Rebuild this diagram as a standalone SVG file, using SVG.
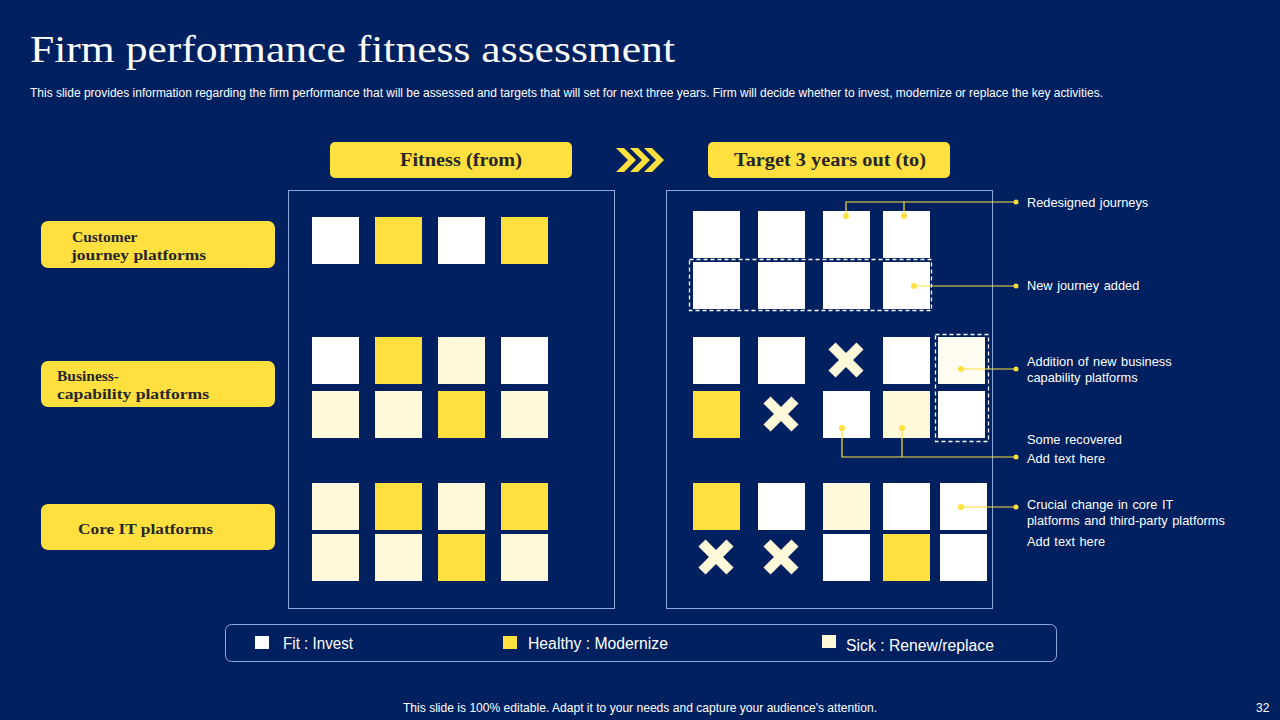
<svg xmlns="http://www.w3.org/2000/svg" width="1280" height="720" viewBox="0 0 1280 720">
<style>
.bg{fill:#002060}
.title{font-family:"Liberation Serif",serif;font-size:37px;fill:#ffffff}
.sub{font-family:"Liberation Sans",sans-serif;font-size:12px;fill:#ffffff}
.pill{fill:#FFE03F}
.pt{font-family:"Liberation Serif",serif;font-weight:bold;font-size:18px;fill:#262626}
.lt{font-family:"Liberation Serif",serif;font-weight:bold;font-size:15.5px;fill:#262626}
.panel{fill:none;stroke:#8EA9DB;stroke-width:1}
.w{fill:#ffffff}
.y{fill:#FFE03F}
.c{fill:#FFF8D9}
.x{stroke:#FFF8D9;stroke-width:10;stroke-linecap:butt}
.dash{fill:none;stroke:#ffffff;stroke-width:1.3;stroke-dasharray:4 3}
.con{fill:none;stroke:#FFE03F;stroke-width:1.2}
.dot{fill:#FFE03F}
.rt{font-family:"Liberation Sans",sans-serif;font-size:12.8px;fill:#ffffff;word-spacing:1px}
.lg{font-family:"Liberation Sans",sans-serif;font-size:16px;fill:#ffffff}
.ft{font-family:"Liberation Sans",sans-serif;font-size:12px;fill:#ffffff}
</style>
<rect class="bg" x="0" y="0" width="1280" height="720"/>
<text class="title" x="30" y="62" textLength="645" lengthAdjust="spacingAndGlyphs">Firm performance fitness assessment</text>
<text class="sub" x="30" y="97" textLength="1073" lengthAdjust="spacingAndGlyphs">This slide provides information regarding the firm performance that will be assessed and targets that will set for next three years. Firm will decide whether to invest, modernize or replace the key activities.</text>

<g id="header-from">
<rect class="pill" x="330" y="142" width="242" height="36" rx="5"/>
<text class="pt" x="461" y="166" text-anchor="middle" textLength="122" lengthAdjust="spacingAndGlyphs">Fitness (from)</text>
</g>
<g id="chevrons">
<polygon class="y" points="616,148 624,148 636,160 624,172 616,172 628,160"/>
<polygon class="y" points="630,148 638,148 650,160 638,172 630,172 642,160"/>
<polygon class="y" points="644,148 652,148 664,160 652,172 644,172 656,160"/>
</g>
<g id="header-to">
<rect class="pill" x="708" y="142" width="242" height="36" rx="5"/>
<text class="pt" x="830" y="166" text-anchor="middle" textLength="192" lengthAdjust="spacingAndGlyphs">Target 3 years out (to)</text>
</g>

<g id="label-customer">
<rect class="pill" x="41" y="221" width="234" height="47" rx="7"/>
<text class="lt" x="72" y="242">Customer</text>
<text class="lt" x="71" y="260" textLength="135" lengthAdjust="spacingAndGlyphs">journey platforms</text>
</g>
<g id="label-business">
<rect class="pill" x="41" y="361" width="234" height="46" rx="7"/>
<text class="lt" x="57" y="381">Business-</text>
<text class="lt" x="57" y="399" textLength="152" lengthAdjust="spacingAndGlyphs">capability platforms</text>
</g>
<g id="label-core">
<rect class="pill" x="41" y="504" width="234" height="46" rx="7"/>
<text class="lt" x="78" y="534" textLength="135" lengthAdjust="spacingAndGlyphs">Core IT platforms</text>
</g>

<g id="panel-from">
<rect class="panel" x="288.5" y="190.5" width="326" height="418"/>
<rect class="w" x="312" y="217" width="47" height="47"/>
<rect class="y" x="375" y="217" width="47" height="47"/>
<rect class="w" x="438" y="217" width="47" height="47"/>
<rect class="y" x="501" y="217" width="47" height="47"/>
<rect class="w" x="312" y="337" width="47" height="47"/>
<rect class="y" x="375" y="337" width="47" height="47"/>
<rect class="c" x="438" y="337" width="47" height="47"/>
<rect class="w" x="501" y="337" width="47" height="47"/>
<rect class="c" x="312" y="391" width="47" height="47"/>
<rect class="c" x="375" y="391" width="47" height="47"/>
<rect class="y" x="438" y="391" width="47" height="47"/>
<rect class="c" x="501" y="391" width="47" height="47"/>
<rect class="c" x="312" y="483" width="47" height="47"/>
<rect class="y" x="375" y="483" width="47" height="47"/>
<rect class="c" x="438" y="483" width="47" height="47"/>
<rect class="y" x="501" y="483" width="47" height="47"/>
<rect class="c" x="312" y="534" width="47" height="47"/>
<rect class="c" x="375" y="534" width="47" height="47"/>
<rect class="y" x="438" y="534" width="47" height="47"/>
<rect class="c" x="501" y="534" width="47" height="47"/>
</g>

<g id="panel-to">
<rect class="panel" x="666.5" y="190.5" width="326" height="418"/>
<rect class="w" x="693" y="211" width="47" height="47"/>
<rect class="w" x="758" y="211" width="47" height="47"/>
<rect class="w" x="823" y="211" width="47" height="47"/>
<rect class="w" x="883" y="211" width="47" height="47"/>
<rect class="w" x="693" y="262" width="47" height="47"/>
<rect class="w" x="758" y="262" width="47" height="47"/>
<rect class="w" x="823" y="262" width="47" height="47"/>
<rect class="w" x="883" y="262" width="47" height="47"/>
<rect class="dash" x="689.5" y="259.5" width="242" height="51"/>
<rect class="w" x="693" y="337" width="47" height="47"/>
<rect class="w" x="758" y="337" width="47" height="47"/>
<path class="x" d="M832,346 L860,374 M860,346 L832,374"/>
<rect class="w" x="883" y="337" width="47" height="47"/>
<rect fill="#FFFDF2" x="938" y="337" width="47" height="47"/>
<rect class="y" x="693" y="391" width="47" height="47"/>
<path class="x" d="M767,400 L795,428 M795,400 L767,428"/>
<rect class="w" x="823" y="391" width="47" height="47"/>
<rect class="c" x="883" y="391" width="47" height="47"/>
<rect class="w" x="938" y="391" width="47" height="47"/>
<rect class="dash" x="935.5" y="334.5" width="53" height="107"/>
<rect class="y" x="693" y="483" width="47" height="47"/>
<rect class="w" x="758" y="483" width="47" height="47"/>
<rect class="c" x="823" y="483" width="47" height="47"/>
<rect class="w" x="883" y="483" width="47" height="47"/>
<rect class="w" x="940" y="483" width="47" height="47"/>
<path class="x" d="M702,543 L730,571 M730,543 L702,571"/>
<path class="x" d="M767,543 L795,571 M795,543 L767,571"/>
<rect class="w" x="823" y="534" width="47" height="47"/>
<rect class="y" x="883" y="534" width="47" height="47"/>
<rect class="w" x="940" y="534" width="47" height="47"/>
</g>

<g id="connectors">
<path class="con" d="M846,216 V202 H1016 M904,216 V202"/>
<path class="con" d="M914,286 H1016"/>
<path class="con" d="M961,369 H1016"/>
<path class="con" d="M842,428 V457 H1016 M902,428 V457"/>
<path class="con" d="M961,507 H1016"/>
<circle class="dot" cx="846" cy="216" r="3"/>
<circle class="dot" cx="904" cy="216" r="3"/>
<circle class="dot" cx="1016" cy="202" r="2.5"/>
<circle class="dot" cx="914" cy="286" r="3"/>
<circle class="dot" cx="1016" cy="286" r="2.5"/>
<circle class="dot" cx="961" cy="369" r="3"/>
<circle class="dot" cx="1016" cy="369" r="2.5"/>
<circle class="dot" cx="842" cy="428" r="3"/>
<circle class="dot" cx="902" cy="428" r="3"/>
<circle class="dot" cx="1016" cy="457" r="2.5"/>
<circle class="dot" cx="961" cy="507" r="3"/>
<circle class="dot" cx="1016" cy="507" r="2.5"/>
</g>

<g id="annotations">
<text class="rt" x="1027" y="207">Redesigned journeys</text>
<text class="rt" x="1027" y="290">New journey added</text>
<text class="rt" x="1027" y="366">Addition of new business</text>
<text class="rt" x="1027" y="382">capability platforms</text>
<text class="rt" x="1027" y="444">Some recovered</text>
<text class="rt" x="1027" y="463">Add text here</text>
<text class="rt" x="1027" y="509">Crucial change in core IT</text>
<text class="rt" x="1027" y="525">platforms and third-party platforms</text>
<text class="rt" x="1027" y="546">Add text here</text>
</g>

<g id="legend">
<rect fill="none" stroke="#8EA9DB" stroke-width="1" x="225.5" y="624.5" width="831" height="37" rx="6"/>
<rect class="w" x="255" y="636" width="14" height="13"/>
<text class="lg" x="283" y="649" textLength="70" lengthAdjust="spacingAndGlyphs">Fit : Invest</text>
<rect class="y" x="503" y="636" width="14" height="13"/>
<text class="lg" x="528" y="649" textLength="140" lengthAdjust="spacingAndGlyphs">Healthy : Modernize</text>
<rect class="c" x="822" y="635" width="14" height="13"/>
<text class="lg" x="846" y="651" textLength="148" lengthAdjust="spacingAndGlyphs">Sick : Renew/replace</text>
</g>

<text class="ft" x="403" y="712" textLength="474" lengthAdjust="spacingAndGlyphs">This slide is 100% editable. Adapt it to your needs and capture your audience's attention.</text>
<text class="ft" x="1256" y="712">32</text>
</svg>
